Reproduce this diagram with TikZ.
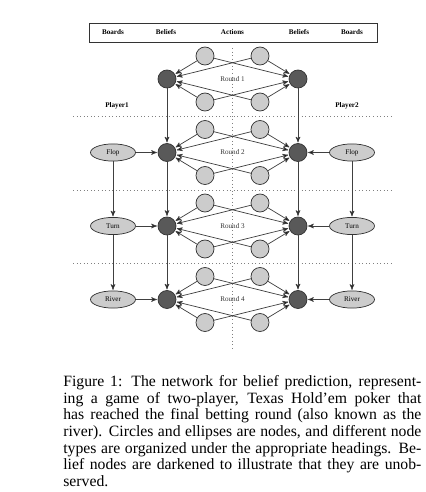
\documentclass[tikz,border=0pt]{standalone}
\usepackage{fontspec}
\setmainfont{Liberation Serif}
\usepackage[]{xcolor}
\usepackage{tikz}
\usetikzlibrary{arrows, shapes, positioning}
\tikzset{
		belief/.style={draw=black!80, circle, fill=black!65, minimum size=12.6pt, inner sep=0pt},
		action/.style={draw=black!80, circle, fill=black!20, minimum size=12.6pt, inner sep=0pt},
		board/.style={draw=black!80, ellipse, fill=black!20, minimum width=31.5pt, minimum height=12pt, inner sep=0pt, font=\fontsize{5}{6}\selectfont},
		heading/.style={font=\fontsize{5}{6}\selectfont\bfseries},
		round label/.style={font=\fontsize{5}{6}\selectfont, text=black!80},
		divider/.style={dotted, black!50, line width=0.5pt}
	}

\begin{document}
\begin{tikzpicture}[>=stealth',shorten >=0.5pt,x=0.7pt,y=0.7pt,on grid,line width=0.5pt]
		\useasboundingbox (0,0) rectangle (426,-492);

		% headings
		\node[draw=black!80, line width=0.6pt, minimum width=201.6pt, minimum height=13.3pt] (header) at (233,-32.5) {};
		\node[heading] (hboardsL)  at (113,-32.5)   {Boards};
		\node[heading] (hbeliefsL) at (166,-32.5)   {Beliefs};
		\node[heading] (hactions)  at (232.5,-32.5) {Actions};
		\node[heading] (hbeliefsR) at (299,-32.5)   {Beliefs};
		\node[heading] (hboardsR)  at (352,-32.5)   {Boards};
		\node[heading] (player1)   at (117,-106)    {Player1};
		\node[heading] (player2)   at (347,-106)    {Player2};

		% dividers
		\draw[divider] (232.5,-48) -- (232.5,-351);
		\draw[divider] (73,-116.5) -- (392,-116.5);
		\draw[divider] (73,-190) -- (392,-190);
		\draw[divider] (73,-263) -- (392,-263);

		% beliefs
		\node[belief] (bl1) at (167,-79)    {};
		\node[belief] (br1) at (298,-79)    {};
		\node[belief] (bl2) at (167,-152.5) {};
		\node[belief] (br2) at (298,-152.5) {};
		\node[belief] (bl3) at (167,-226)   {};
		\node[belief] (br3) at (298,-226)   {};
		\node[belief] (bl4) at (167,-299.5) {};
		\node[belief] (br4) at (298,-299.5) {};

		% actions
		\node[action] (a1tl) [above right=16.1pt and 26.6pt of bl1] {};
		\node[action] (a1bl) [below right=16.1pt and 26.6pt of bl1] {};
		\node[action] (a1tr) [above left=16.1pt and 26.6pt of br1]  {};
		\node[action] (a1br) [below left=16.1pt and 26.6pt of br1]  {};
		\node[action] (a2tl) [above right=16.1pt and 26.6pt of bl2] {};
		\node[action] (a2bl) [below right=16.1pt and 26.6pt of bl2] {};
		\node[action] (a2tr) [above left=16.1pt and 26.6pt of br2]  {};
		\node[action] (a2br) [below left=16.1pt and 26.6pt of br2]  {};
		\node[action] (a3tl) [above right=16.1pt and 26.6pt of bl3] {};
		\node[action] (a3bl) [below right=16.1pt and 26.6pt of bl3] {};
		\node[action] (a3tr) [above left=16.1pt and 26.6pt of br3]  {};
		\node[action] (a3br) [below left=16.1pt and 26.6pt of br3]  {};
		\node[action] (a4tl) [above right=16.1pt and 26.6pt of bl4] {};
		\node[action] (a4bl) [below right=16.1pt and 26.6pt of bl4] {};
		\node[action] (a4tr) [above left=16.1pt and 26.6pt of br4]  {};
		\node[action] (a4br) [below left=16.1pt and 26.6pt of br4]  {};

		\node[round label] (round1) at (232.5,-79)    {Round 1};
		\node[round label] (round2) at (232.5,-152.5) {Round 2};
		\node[round label] (round3) at (232.5,-226)   {Round 3};
		\node[round label] (round4) at (232.5,-299.5) {Round 4};

		% boards
		\node[board] (flopL)  [left=37.8pt of bl2]  {Flop};
		\node[board] (turnL)  [left=37.8pt of bl3]  {Turn};
		\node[board] (riverL) [left=37.8pt of bl4]  {River};
		\node[board] (flopR)  [right=37.8pt of br2] {Flop};
		\node[board] (turnR)  [right=37.8pt of br3] {Turn};
		\node[board] (riverR) [right=37.8pt of br4] {River};

		\path[->, draw=black!75] (a1tl) edge (bl1) edge (br1)
		          (a1bl) edge (bl1) edge (br1)
		          (a1tr) edge (bl1) edge (br1)
		          (a1br) edge (bl1) edge (br1);
		\path[->, draw=black!75] (a2tl) edge (bl2) edge (br2)
		          (a2bl) edge (bl2) edge (br2)
		          (a2tr) edge (bl2) edge (br2)
		          (a2br) edge (bl2) edge (br2);
		\path[->, draw=black!75] (a3tl) edge (bl3) edge (br3)
		          (a3bl) edge (bl3) edge (br3)
		          (a3tr) edge (bl3) edge (br3)
		          (a3br) edge (bl3) edge (br3);
		\path[->, draw=black!75] (a4tl) edge (bl4) edge (br4)
		          (a4bl) edge (bl4) edge (br4)
		          (a4tr) edge (bl4) edge (br4)
		          (a4br) edge (bl4) edge (br4);

		\path[->, draw=black!75] (bl1) edge (bl2) (bl2) edge (bl3) (bl3) edge (bl4);
		\path[->, draw=black!75] (br1) edge (br2) (br2) edge (br3) (br3) edge (br4);
		\path[->, draw=black!75] (flopL) edge (bl2) edge (turnL) (turnL) edge (bl3) edge (riverL) (riverL) edge (bl4);
		\path[->, draw=black!75] (flopR) edge (br2) edge (turnR) (turnR) edge (br3) edge (riverR) (riverR) edge (br4);

		% caption
		\node[anchor=north west, text width=250.6pt, align=justify, inner sep=0pt, font=\fontsize{11}{11.7}\selectfont] (caption) at (63,-375)
			{Figure 1: The network for belief prediction, represent-\linebreak
			ing a game of two-player, Texas Hold’em poker that\linebreak
			has reached the final betting round (also known as the\linebreak
			river). Circles and ellipses are nodes, and different node\linebreak
			types are organized under the appropriate headings. Be-\linebreak
			lief nodes are darkened to illustrate that they are unob-\linebreak
			served.};
	\end{tikzpicture}
\end{document}
